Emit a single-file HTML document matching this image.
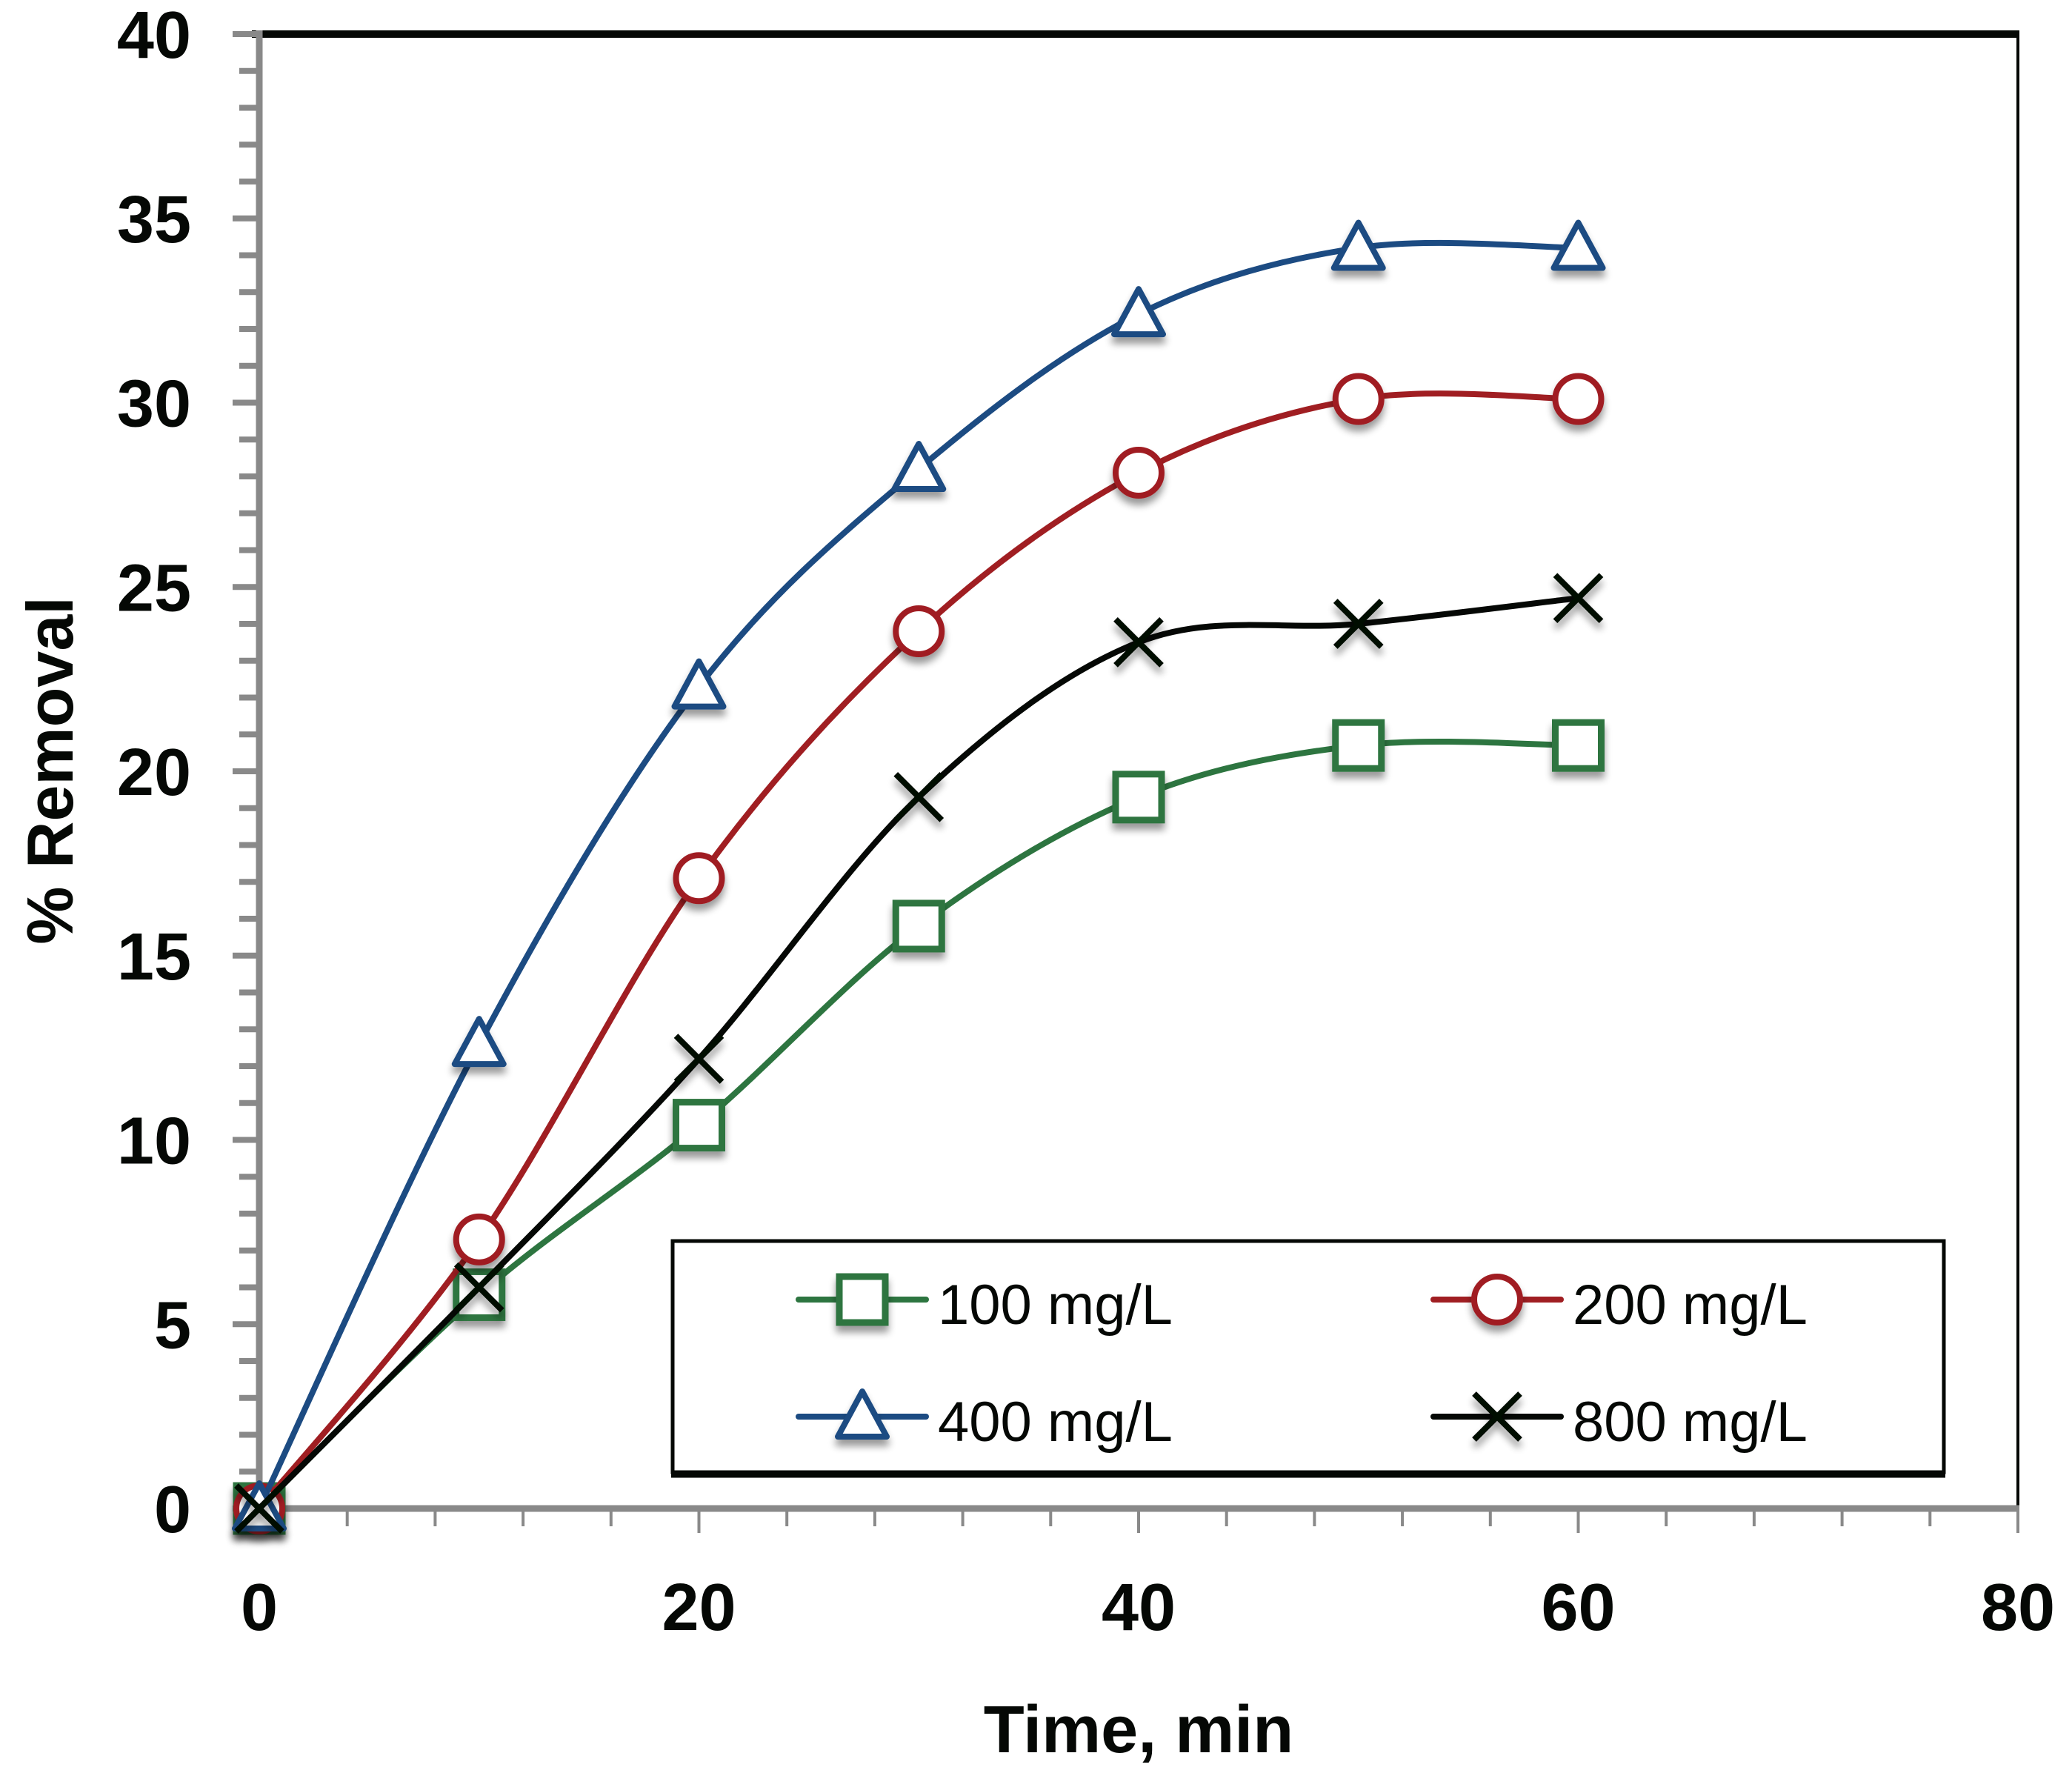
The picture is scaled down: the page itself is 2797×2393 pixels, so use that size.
<!DOCTYPE html>
<html><head><meta charset="utf-8"><style>
html,body{margin:0;padding:0;background:#fff}
svg{display:block}
text{font-family:"Liberation Sans",sans-serif}
</style></head><body>
<svg id="chart" width="2797" height="2393" viewBox="0 0 2797 2393" xmlns="http://www.w3.org/2000/svg">
<defs><filter id="sh" x="-50%" y="-50%" width="200%" height="200%"><feGaussianBlur in="SourceAlpha" stdDeviation="5"/><feOffset dx="0" dy="9"/><feComponentTransfer><feFuncA type="linear" slope="0.4"/></feComponentTransfer><feMerge><feMergeNode/><feMergeNode in="SourceGraphic"/></feMerge></filter></defs>
<g id="plot"></g>
</svg>
<script>
const xTicks=[0,20,40,60,80];
const yTicks=[0,5,10,15,20,25,30,35,40];
const times=[0,10,20,30,40,50,60];
const s100=[0,5.8,10.4,15.8,19.3,20.7,20.7];
const s200=[0,7.3,17.1,23.8,28.1,30.1,30.1];
const s400=[0,12.6,22.3,28.2,32.4,34.2,34.2];
const s800=[0,6.0,12.2,19.3,23.5,24.0,24.7];
const seriesNames=["100 mg/L","200 mg/L","400 mg/L","800 mg/L"];

const NS="http://www.w3.org/2000/svg";
const X0=350,X1=2724,Y0=2036,Y1=46;
const xs=v=>X0+(v-0)/80*(X1-X0);
const ys=v=>Y0-(v-0)/40*(Y0-Y1);
const g=document.getElementById('plot');
function el(tag,attrs,parent){const e=document.createElementNS(NS,tag);for(const k in attrs)e.setAttribute(k,attrs[k]);(parent||g).appendChild(e);return e;}

let e=el('line',{x1:X0-10,y1:Y1,x2:X1+2,y2:Y1,stroke:'#050805','stroke-width':10});

e=el('line',{x1:X1,y1:Y1,x2:X1,y2:Y0,stroke:'#050805','stroke-width':4});

e=el('line',{x1:X0,y1:Y1-5,x2:X0,y2:Y0+4,stroke:'#898989','stroke-width':9});

e=el('line',{x1:X0-4,y1:Y0,x2:X1+2,y2:Y0,stroke:'#898989','stroke-width':9});


for(let v=0;v<=40;v++){
  const major=v%5===0;
  e=el('line',{x1:X0-(major?36:27),y1:ys(v),x2:X0,y2:ys(v),stroke:'#898989','stroke-width':8});
  
}
yTicks.forEach(v=>{
  const t=el('text',{x:258,y:ys(v)+32,'text-anchor':'end','font-size':90,'font-weight':'bold',fill:'#050805'});
  t.textContent=v;
  
});
for(let v=4;v<=80;v+=4){
  const major=v%20===0;
  e=el('line',{x1:xs(v),y1:Y0+4,x2:xs(v),y2:Y0+(major?33:24),stroke:'#898989','stroke-width':4});
  
}
xTicks.forEach(v=>{
  const t=el('text',{x:xs(v),y:2200,'text-anchor':'middle','font-size':90,'font-weight':'bold',fill:'#050805'});
  t.textContent=v;
  
});
let t=el('text',{x:1537,y:2365,'text-anchor':'middle','font-size':90,'font-weight':'bold',fill:'#050805'});
t.textContent='Time, min';
t=el('text',{x:0,y:0,'text-anchor':'middle','font-size':88,'font-weight':'bold',fill:'#050805',transform:'translate(98,1040) rotate(-90)'});
t.textContent='% Removal';

function spline(pts){
  let d='M'+pts[0][0]+','+pts[0][1];
  for(let i=0;i<pts.length-1;i++){
    const p0=pts[Math.max(0,i-1)],p1=pts[i],p2=pts[i+1],p3=pts[Math.min(pts.length-1,i+2)];
    const k=1/6;
    d+=' C'+(p1[0]+(p2[0]-p0[0])*k)+','+(p1[1]+(p2[1]-p0[1])*k)+' '+(p2[0]-(p3[0]-p1[0])*k)+','+(p2[1]-(p3[1]-p1[1])*k)+' '+p2[0]+','+p2[1];
  }
  return d;
}
function marker(kind,x,y,color,parent){
  let m;
  if(kind==='square') m=el('rect',{x:x-31,y:y-31,width:62,height:62,fill:'#fff',stroke:color,'stroke-width':9,filter:'url(#sh)'},parent);
  else if(kind==='circle') m=el('circle',{cx:x,cy:y,r:31,fill:'#fff',stroke:color,'stroke-width':8,filter:'url(#sh)'},parent);
  else if(kind==='tri') m=el('polygon',{points:(x)+','+(y-34)+' '+(x+33)+','+(y+27)+' '+(x-33)+','+(y+27),fill:'#fff',stroke:color,'stroke-width':8,'stroke-linejoin':'round',filter:'url(#sh)'},parent);
  else m=el('path',{d:'M'+(x-31)+','+(y-31)+'L'+(x+31)+','+(y+31)+'M'+(x+31)+','+(y-31)+'L'+(x-31)+','+(y+31),stroke:color,'stroke-width':8,fill:'none',filter:'url(#sh)'},parent);
  return m;
}
const sets=[[s100,'#2d7540','square'],[s200,'#a01e22','circle'],[s400,'#1c4b82','tri'],[s800,'#050805','x']];
sets.forEach((sd,i)=>{
  const sg=el('g',{});
  
  
  const pts=times.map((tv,j)=>[xs(tv),ys(sd[0][j])]);
  const p=el('path',{d:spline(pts),fill:'none',stroke:sd[1],'stroke-width':8},sg);
  
  pts.forEach(pt=>{const m=marker(sd[2],pt[0],pt[1],sd[1],sg);
    });
});

const lg=el('g',{});

e=el('rect',{x:908,y:1675,width:1716,height:312,fill:'#fff',stroke:'#050805','stroke-width':5},lg);

e=el('line',{x1:906,y1:1990,x2:2626,y2:1990,stroke:'#050805','stroke-width':9},lg);

const lpos=[[1078,1754],[1935,1754],[1078,1912],[1935,1912]];
sets.forEach((sd,i)=>{
  const [lx,ly]=lpos[i];
  const eg=el('g',{},lg);
  
  el('line',{x1:lx,y1:ly,x2:lx+172,y2:ly,stroke:sd[1],'stroke-width':8,'stroke-linecap':'round'},eg);
  marker(sd[2],lx+86,ly,sd[1],eg);
  const tx=el('text',{x:lx+188,y:ly+33,'font-size':76,fill:'#050805'},eg);
  tx.textContent=seriesNames[i];
});
</script>
</body></html>
